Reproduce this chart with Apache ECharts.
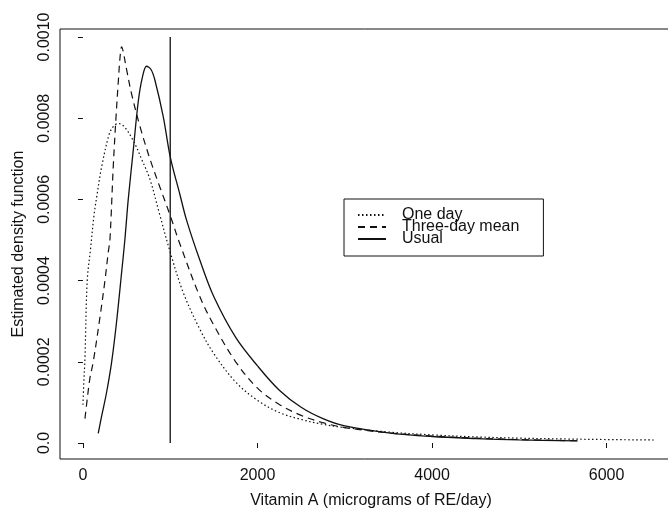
<!DOCTYPE html>
<html>
<head>
<meta charset="utf-8">
<script src="https://cdn.jsdelivr.net/npm/echarts@6/dist/echarts.min.js"></script>
<style>html,body{margin:0;padding:0;background:#fff}#c{width:668px;height:508px}</style>
</head>
<body>
<div id="c"></div>
<script>
var seriesNames = ["One day", "Three-day mean", "Usual"];
var xTicks = [0, 2000, 4000, 6000];
var yTicks = [0, 0.0002, 0.0004, 0.0006, 0.0008, 0.0010];
var yTickLabels = ["0.0", "0.0002", "0.0004", "0.0006", "0.0008", "0.0010"];

var oneDayX = [0, 8, 23, 49, 88, 126, 157, 214, 300, 350, 405, 470, 576, 670, 767, 870, 1000, 1150, 1340, 1500, 1750, 2000, 2250, 2500, 2750, 3000, 3500, 4000, 4500, 5000, 5500, 6000, 6540];
var oneDayY = [0.000094, 0.00014, 0.00021, 0.0004, 0.00048, 0.00056, 0.000605, 0.00068, 0.00076, 0.00078, 0.000787, 0.00078, 0.000745, 0.0007, 0.00065, 0.00057, 0.00047, 0.00037, 0.00028, 0.00022, 0.00015, 0.000105, 0.000075, 0.000058, 0.000046, 0.000038, 0.000027, 0.00002, 0.000015, 0.000012, 0.00001, 0.0000085, 0.0000074];

var threeDayX = [23, 50, 80, 118, 195, 252, 290, 309, 347, 378, 405, 425, 443, 460, 500, 557, 653, 767, 882, 1000, 1111, 1340, 1500, 1750, 2000, 2250, 2500, 2750, 3000, 3500, 4000, 4500, 5000, 5668];
var threeDayY = [0.00006, 0.00011, 0.00016, 0.0002, 0.00031, 0.0004, 0.00047, 0.0005, 0.00068, 0.0008, 0.00089, 0.00095, 0.000976, 0.000965, 0.00092, 0.00086, 0.00078, 0.0007, 0.00063, 0.00056, 0.00049, 0.00036, 0.00029, 0.0002, 0.000135, 0.000095, 0.000068, 0.00005, 0.000038, 0.000025, 0.000017, 0.000012, 0.0000085, 0.0000055];

var usualX = [175, 214, 271, 329, 386, 443, 480, 519, 576, 633, 680, 729, 780, 824, 920, 1000, 1111, 1187, 1340, 1500, 1750, 2000, 2250, 2500, 2750, 3000, 3500, 4000, 4500, 5000, 5668];
var usualY = [0.000024, 0.000066, 0.000125, 0.0002, 0.0003, 0.00042, 0.0005, 0.0006, 0.00072, 0.00084, 0.0009, 0.000928, 0.00092, 0.000894, 0.000804, 0.000705, 0.000612, 0.000549, 0.00045, 0.00036, 0.00026, 0.00019, 0.00013, 0.000088, 0.00006, 0.000042, 0.000025, 0.000016, 0.000011, 0.0000075, 0.000005];

var refLineX = [1000, 1000];
var refLineY = [0, 0.0010];

function pairs(xs, ys) { return xs.map(function (x, i) { return [x, ys[i]]; }); }

var FONT = "'Liberation Sans', Arial, Helvetica, sans-serif";
var INK = "#111";

var chart = echarts.init(document.getElementById('c'), null, {renderer: 'canvas'});
chart.setOption({
  animation: false,
  backgroundColor: '#fff',
  grid: {
    left: 60, top: 29, right: -14, bottom: 49,
    show: true, borderColor: INK, borderWidth: 1, backgroundColor: 'transparent',
    outerBoundsMode: 'none', containLabel: false
  },
  xAxis: {
    type: 'value', min: -263, max: 6864,
    axisLine: {show: false},
    splitLine: {show: false},
    axisTick: {show: true, inside: false, length: 5, lineStyle: {color: INK}, customValues: xTicks},
    axisLabel: {show: true, customValues: xTicks, margin: 9, color: INK, fontSize: 16, fontFamily: FONT,
      formatter: function (v) { return String(v); }},
    name: 'Vitamin A (micrograms of RE/day)', nameLocation: 'middle', nameGap: 34,
    nameTextStyle: {color: INK, fontSize: 16, fontFamily: FONT}
  },
  yAxis: {
    type: 'value', min: -0.0000394, max: 0.0010197,
    axisLine: {show: false},
    splitLine: {show: false},
    axisTick: {show: true, inside: false, length: 5, lineStyle: {color: INK}, customValues: yTicks},
    axisLabel: {show: true, customValues: yTicks, rotate: 90, margin: 7, color: INK, fontSize: 16, fontFamily: FONT,
      formatter: function (v) {
        for (var i = 0; i < yTicks.length; i++) { if (Math.abs(v - yTicks[i]) < 1e-9) return yTickLabels[i]; }
        return '';
      }},
    name: 'Estimated density function', nameLocation: 'middle', nameGap: 33, nameRotate: 90,
    nameTextStyle: {color: INK, fontSize: 16, fontFamily: FONT}
  },
  legend: {
    data: seriesNames,
    orient: 'vertical', left: 344, top: 199,
    itemWidth: 28, itemHeight: 12, itemGap: -4,
    padding: [8, 24, 9, 13],
    borderColor: INK, borderWidth: 1, backgroundColor: '#fff',
    selectedMode: false,
    itemStyle: {color: 'rgba(0,0,0,0)', borderWidth: 0, opacity: 0},
    textStyle: {color: INK, fontSize: 16, fontFamily: FONT, padding: [0, 0, 0, 11]}
  },
  series: [
    {name: seriesNames[0], type: 'line', data: pairs(oneDayX, oneDayY), showSymbol: false, symbol: 'none',
      smooth: 0.35, itemStyle: {color: INK}, lineStyle: {color: INK, width: 1.2, type: [1.5, 2.5]}, z: 3},
    {name: seriesNames[1], type: 'line', data: pairs(threeDayX, threeDayY), showSymbol: false, symbol: 'none',
      smooth: 0.35, itemStyle: {color: INK}, lineStyle: {color: INK, width: 1.2, type: [7, 5]}, z: 3},
    {name: seriesNames[2], type: 'line', data: pairs(usualX, usualY), showSymbol: false, symbol: 'none',
      smooth: 0.35, itemStyle: {color: INK}, lineStyle: {color: INK, width: 1.3, type: 'solid'}, z: 3},
    {name: 'ref', type: 'line', data: pairs(refLineX, refLineY), showSymbol: false, symbol: 'none',
      itemStyle: {color: INK}, lineStyle: {color: INK, width: 1.3}, z: 2}
  ]
});
</script>
</body>
</html>
